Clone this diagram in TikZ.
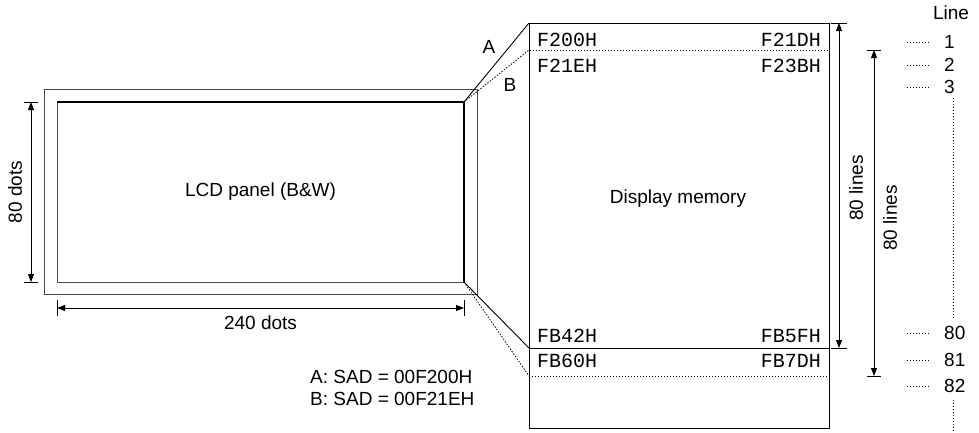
\documentclass[tikz,border=0pt]{standalone}
\usepackage{fontspec}
\setmainfont{Liberation Sans}
\setmonofont{Liberation Mono}
\usetikzlibrary{arrows.meta,positioning}

\begin{document}
\begin{tikzpicture}[
  x=1pt, y=-1pt,
  lbl/.style={font=\fontsize{19}{22}\selectfont, inner sep=0pt},
  addr/.style={font=\ttfamily\fontsize{20}{22}\selectfont, inner sep=0pt},
  rect/.style={draw, inner sep=0pt, outer sep=0pt, line width=0.9pt},
  wire/.style={line width=0.9pt},
  dotln/.style={line width=0.8pt, dash pattern=on 1.4pt off 1.6pt},
  dim/.style={{Triangle[length=8pt,width=6pt]}-{Triangle[length=8pt,width=6pt]}, line width=0.9pt},
  tick/.style={line width=0.9pt}
]
\useasboundingbox (0,0) rectangle (979,432);

% LCD panel
\node[rect, draw=black!70, minimum width=433pt, minimum height=205pt] (frame) at (260.5,192) {};
\node[rect, draw=black!70, minimum width=407pt, minimum height=180pt] (panel) at (260.5,192) {};
\draw[line width=2.2pt] (panel.north west) -- (panel.north east) -- (panel.south east);
\node[lbl] (lcd) at (panel.center) {LCD panel (B\&W)};

% display memory
\node[rect, minimum width=300pt, minimum height=405pt] (mem) at (679,225.5) {};
\node[rect, minimum width=300pt, minimum height=325pt] (winA) at (679,185.5) {};
\node[rect, dotln, minimum width=300pt, minimum height=326pt] (winB) at (679,213) {};
\node[lbl] (dmem) at (678,199) {Display memory};

\node[addr, anchor=west] (a1) at (537,40) {F200H};
\node[addr, anchor=east] (a2) at (821,40) {F21DH};
\node[addr, anchor=west] (b1) at (537,66) {F21EH};
\node[addr, anchor=east] (b2) at (821,66) {F23BH};
\node[addr, anchor=west] (c1) at (537,336) {FB42H};
\node[addr, anchor=east] (c2) at (821,336) {FB5FH};
\node[addr, anchor=west] (d1) at (537,361) {FB60H};
\node[addr, anchor=east] (d2) at (821,361) {FB7DH};

% panel to memory
\draw[wire] (panel.north east) -- (winA.north west);
\draw[wire] (panel.south east) -- (winA.south west);
\draw[dotln] (panel.north east) -- (winB.north west);
\draw[dotln] (panel.south east) -- (winB.south west);
\node[lbl] (labA) at (489,47) {A};
\node[lbl] (labB) at (510,85) {B};

\node[lbl, anchor=west] (sadA) at (310,377) {A: SAD = 00F200H};
\node[lbl, anchor=west] (sadB) at (310,399) {B: SAD = 00F21EH};

% dimensions
\coordinate (vt) at ([xshift=-26pt]panel.north west);
\coordinate (vb) at ([xshift=-26pt]panel.south west);
\draw[tick] ([xshift=-7pt]vt) -- ([xshift=7pt]vt);
\draw[tick] ([xshift=-7pt]vb) -- ([xshift=7pt]vb);
\draw[dim] (vt) -- (vb);
\node[lbl, rotate=90] (dots80) at (15,192) {80 dots};

\coordinate (hl) at ([yshift=-26pt]panel.south west);
\coordinate (hr) at ([yshift=-26pt]panel.south east);
\draw[tick] ([yshift=8pt]hl) -- ([yshift=-8pt]hl);
\draw[tick] ([yshift=8pt]hr) -- ([yshift=-8pt]hr);
\draw[dim] (hl) -- (hr);
\node[lbl] (dots240) at (260.5,323) {240 dots};

\coordinate (ra1) at ([xshift=10pt]winA.north east);
\coordinate (ra2) at ([xshift=10pt]winA.south east);
\draw[tick] ([xshift=-8pt]ra1) -- ([xshift=8pt]ra1);
\draw[tick] ([xshift=-8pt]ra2) -- ([xshift=8pt]ra2);
\draw[dim] (ra1) -- (ra2);
\node[lbl, rotate=90] (linesA) at (856,188) {80 lines};

\coordinate (rb1) at ([xshift=45pt]winB.north east);
\coordinate (rb2) at ([xshift=45pt]winB.south east);
\draw[tick] ([xshift=-7pt]rb1) -- ([xshift=7pt]rb1);
\draw[tick] ([xshift=-7pt]rb2) -- ([xshift=7pt]rb2);
\draw[dim] (rb1) -- (rb2);
\node[lbl, rotate=90] (linesB) at (890,218) {80 lines};

% line numbers
\node[lbl] (lineh) at (951,13) {Line};
\foreach \n/\y in {1/42, 2/65, 3/87, 80/333, 81/360, 82/386}{
  \node[lbl, anchor=west] (n\n) at (944,\y) {\n};
  \draw[dotln] ([xshift=-37pt]n\n.west) -- ([xshift=-14pt]n\n.west);
}
\draw[dotln] (953,98) -- (953,318);
\draw[dotln] (953,400) -- (953,432);
\end{tikzpicture}
\end{document}
